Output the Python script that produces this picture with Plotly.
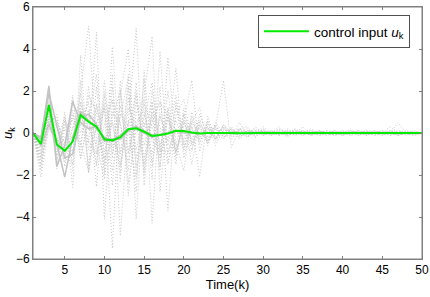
import plotly.graph_objects as go

K = list(range(1, 51))

# control input (green)
U_MEAN = [0, -0.52, 1.33, -0.55, -0.85, -0.41, 0.86, 0.54, 0.3, -0.3,
          -0.35, -0.2, 0.18, 0.22, 0.06, -0.14, -0.1, -0.02, 0.11, 0.1,
          0.02, -0.02, 0.0, 0.01, 0.0, 0.0, -0.01, 0.01, 0.0, 0.0,
          0.0, 0.01, 0.0, 0.0, -0.01, 0.0, 0.0, 0.01, 0.0, 0.01,
          0.02, 0.01, 0.0, 0.0, 0.0, -0.01, 0.01, 0.02, 0.01, 0.0]

# solid gray trajectories (early steps)
S1 = [0, -0.3, 2.25, -1.6, -0.6, 1.5, 0.5, 0.2, 0.3, -0.3, -0.3, -0.1, 0.2, 0.2, 0.0, -0.1, -0.1, 0.0, 0.1, 0.1, 0.0, 0.0]
S2 = [0, -0.6, 0.4, -0.5, -2.1, -0.2, 1.0, 0.6, 0.2, -0.2, -0.4, -0.2, 0.2, 0.3, 0.0, -0.2, -0.1, 0.0, 0.1, 0.1, 0.0, 0.0]
S3 = [0, -0.2, 1.9, 0.3, -1.2, -1.0, 0.7, 0.9, 0.4, -0.4, -0.3, -0.3, 0.1, 0.3, 0.1, -0.1, -0.1, 0.0, 0.1, 0.0, 0.0, 0.0]

# dotted gray trajectories
D1 = [0, -0.8, 1.2, -1.0, 0.6, -1.5, 2.0, 5.1, -0.5, 1.2,
      -5.5, 2.1, -1.0, 2.4, -1.8, 1.0, -1.2, 0.8, -0.6, 0.9,
      -0.5, 0.3, -0.4, 0.2, -0.1, 0.3, -0.2, 0.1, -0.1, 0.2,
      -0.1, 0.1, -0.2, 0.1, 0.0, 0.1, -0.1, 0.0, 0.1, -0.1,
      0.0, 0.1, -0.1, 0.0, 0.1, 0.0, -0.1, 0.0, 0.0, 0.0]
D2 = [0, -1.5, 0.8, 0.5, -1.2, 0.9, -0.6, 1.8, 1.0, -1.5,
      2.8, -4.9, 0.5, 5.0, -2.5, 1.5, -0.8, 1.2, -1.0, 0.6,
      -0.8, 0.5, -0.3, 0.4, -0.2, 0.1, 0.2, -0.2, 0.1, 0.0,
      0.1, -0.1, 0.2, 0.0, -0.1, 0.1, 0.0, -0.1, 0.0, 0.1,
      -0.1, 0.0, 0.1, 0.0, -0.1, 0.1, 0.0, 0.0, -0.1, 0.0]
D3 = [0, -0.5, 1.5, -1.7, 0.2, -0.8, 1.5, -0.5, 4.8, -4.1,
      1.5, 0.5, -1.8, 2.0, -1.2, 0.5, 1.5, -1.0, 0.6, -0.4,
      0.3, -0.3, 0.2, 0.0, 0.2, -0.1, 0.1, -0.2, 0.1, 0.0,
      -0.1, 0.2, -0.1, 0.0, 0.1, -0.1, 0.0, 0.1, 0.0, -0.1,
      0.1, 0.0, 0.0, -0.1, 0.0, 0.1, 0.0, -0.1, 0.0, 0.0]
D4 = [0, -1.0, 0.5, 0.8, -0.9, 1.8, -1.2, 0.6, -1.5, 2.5,
      -1.0, 0.8, 2.6, -4.1, 1.8, 4.6, -2.8, 1.0, -1.5, 1.2,
      -0.6, 0.4, -0.5, 0.3, -0.1, 0.2, -0.2, 0.1, 0.0, -0.1,
      0.1, 0.0, -0.1, 0.2, -0.1, 0.0, 0.1, 0.0, -0.1, 0.0,
      0.1, -0.1, 0.0, 0.0, 0.1, -0.1, 0.0, 0.0, 0.1, 0.0]
D5 = [0, -0.3, 1.0, -1.3, 0.5, 0.2, 1.2, -1.6, 2.2, -2.0,
      4.1, -1.5, 0.2, -2.2, 2.6, -4.3, 1.5, 0.8, -0.9, 0.5,
      -0.3, 0.6, -0.4, 0.2, -0.2, 0.1, 0.0, 0.2, -0.1, 0.0,
      0.1, -0.1, 0.0, 0.1, 0.0, -0.1, 0.1, 0.0, -0.1, 0.0,
      0.0, 0.1, 0.0, -0.1, 0.0, 0.0, 0.1, 0.0, -0.1, 0.0]
D6 = [0, -1.2, 0.2, -0.4, 0.8, -1.8, 2.5, -1.9, 0.5, 1.2,
      -2.5, 1.8, 4.0, -2.0, 0.5, -1.0, 2.2, -3.7, 1.5, -0.6,
      0.8, -0.5, 0.4, -0.2, 0.3, -0.1, 0.0, 0.1, -0.2, 0.1,
      0.0, -0.1, 0.1, 0.0, 0.1, -0.1, 0.0, 0.0, 0.1, -0.1,
      0.0, 0.1, -0.1, 0.0, 0.0, 0.1, -0.1, 0.0, 0.0, 0.0]
D7 = [0, -0.9, 0.6, -0.2, -1.0, 0.9, 0.3, 1.5, -2.55, 1.8,
      -1.2, 2.5, -3.0, 1.0, 1.6, -2.2, 3.9, -1.4, 0.2, -0.8,
      0.5, -0.2, 0.3, -0.3, 0.1, 0.1, -0.1, 0.0, 0.2, -0.1,
      0.0, 0.0, 0.1, -0.1, 0.1, 0.0, -0.1, 0.0, 0.1, 0.0,
      -0.1, 0.0, 0.1, 0.0, 0.0, -0.1, 0.0, 0.1, 0.0, 0.0]
D8 = [0, -0.6, 1.8, -1.5, 1.0, -2.6, 3.7, -1.9, 1.3, -0.5,
      0.6, -1.6, 1.2, 0.4, -1.5, 2.0, -0.6, 0.7, -0.9, 0.3,
      0.2, -0.4, 0.1, 0.3, -0.2, 0.0, 0.1, -0.1, 0.0, 0.1,
      -0.1, 0.0, 0.0, 0.1, -0.1, 0.0, 0.0, 0.1, 0.0, -0.1,
      0.0, 0.0, 0.1, -0.1, 0.0, 0.0, 0.0, 0.1, 0.0, 0.0]
D9 = [0, -1.8, 0.9, -0.6, 0.3, 0.6, -0.8, 2.2, -1.0, 0.4,
      1.6, -2.3, 2.8, -1.2, 0.3, 1.4, -1.8, 3.6, -0.5, -1.8,
      1.0, -0.3, 0.5, -0.2, 0.1, 0.2, -0.3, 0.1, 0.0, 0.1,
      0.0, -0.1, 0.1, 0.0, -0.1, 0.1, 0.0, 0.0, -0.1, 0.1,
      0.0, -0.1, 0.0, 0.1, 0.0, 0.0, -0.1, 0.0, 0.0, 0.0]
D10 = [0, -2.1, 0.3, 0.6, -0.5, 1.1, -1.2, 0.9, 0.5, -1.8,
       2.2, -1.0, 0.6, -2.8, 3.0, -1.6, 0.9, -0.4, 3.1, -1.2,
       0.4, -2.1, 0.8, -0.3, 0.4, -0.1, 0.2, 0.0, -0.1, 0.2,
       -0.1, 0.0, 0.1, -0.1, 0.0, 0.1, 0.0, -0.1, 0.0, 0.1,
       0.0, 0.0, -0.1, 0.1, 0.0, -0.1, 0.0, 0.0, 0.1, 0.0]
D11 = [0, -0.4, 0.9, -1.1, 0.7, -0.4, 1.9, -0.8, 0.2, -1.2,
       1.0, 0.4, -1.4, 1.5, -0.6, 0.8, -1.6, 1.2, -0.9, 0.6,
       2.5, -0.9, 0.6, -0.4, 0.3, -0.2, 0.5, -0.1, 0.0, 0.1,
       0.0, 0.3, -0.1, 0.0, 0.1, 0.0, -0.1, 0.0, 0.1, 0.0,
       0.2, -0.1, 0.0, 0.0, 0.1, 0.0, -0.1, 0.0, 0.0, 0.0]
D12 = [0, -1.3, 1.4, -0.8, -0.2, 0.7, 0.0, 1.1, -1.6, 2.0,
       -0.7, 1.3, -0.9, 0.5, 1.1, -1.4, 0.8, -0.6, 1.3, -0.8,
       0.5, 1.2, -0.6, 0.3, 2.5, -0.7, 0.2, 0.3, -0.2, 0.1,
       0.0, 0.1, -0.1, 0.2, 0.0, -0.1, 0.1, 0.0, 0.0, -0.1,
       0.1, 0.0, 0.0, 0.1, -0.1, 0.0, 0.5, 0.0, -0.1, 0.0]
D13 = [0, -1.6, 0.5, -0.3, -1.4, 1.6, -0.5, -1.8, 1.4, -0.9,
       0.5, -1.9, 1.7, -0.8, 0.9, -0.3, -1.1, 2.0, -1.2, 0.9,
       -1.5, 0.6, 0.3, -0.6, 0.2, 0.0, 0.1, -0.2, 0.3, 0.0,
       -0.1, 0.1, 0.0, 0.0, 0.3, -0.1, 0.0, 0.1, 0.0, 0.0,
       -0.1, 0.1, 0.0, 0.0, 0.0, 0.1, -0.1, 0.0, 0.0, 0.0]
D14 = [0, -0.7, 0.4, 0.9, -1.6, 0.3, 1.0, -0.4, -1.0, 1.4,
       -1.8, 0.9, 0.3, 1.8, -2.0, 1.2, 0.3, -1.5, 0.8, 1.6,
       -0.4, 0.2, -0.5, 0.5, 0.0, -0.3, 0.2, 0.0, 0.1, -0.1,
       0.0, 0.2, 0.0, -0.1, 0.0, 0.0, 0.1, 0.0, 0.0, 0.0,
       0.1, 0.0, -0.1, 0.0, 0.0, 0.0, 0.1, 0.0, 0.0, 0.0]
D15 = [0, -1.1, 1.1, 0.2, -0.7, -1.1, 1.4, 0.2, -0.6, -2.2,
       0.8, 2.0, -2.4, 0.2, 1.4, 0.3, -0.9, -0.2, 1.8, -0.5,
       -0.9, 0.9, -0.2, 0.0, -0.3, 0.2, 0.0, 0.0, 0.1, -0.1,
       0.1, 0.0, -0.1, 0.0, 0.1, -0.1, 0.1, 0.0, 0.0, 0.0,
       0.0, 0.0, 0.1, 0.0, -0.1, 0.0, 0.0, 0.0, 0.0, 0.0]
D16 = [0, -0.2, 0.7, -0.6, -0.3, -0.9, 0.4, 0.7, 2.8, -1.3,
       -0.4, -1.0, 2.2, -1.6, 0.7, 2.4, -0.8, -0.9, 0.2, -0.3,
       0.6, -0.1, 0.2, -0.3, 0.4, 0.0, -0.1, 0.1, 0.0, 0.3,
       0.0, -0.1, 0.0, 0.1, 0.0, 0.2, 0.0, 0.0, -0.1, 0.0,
       0.0, 0.0, 0.0, 0.1, 0.0, 0.3, 0.0, -0.1, 0.0, 0.0]

DOTTED = [D1, D2, D3, D4, D5, D6, D7, D8, D9, D10, D11, D12, D13, D14, D15, D16]
SOLID = [S1, S2, S3]

X_TICKS = [5, 10, 15, 20, 25, 30, 35, 40, 45, 50]
Y_TICKS = [-6, -4, -2, 0, 2, 4, 6]

fig = go.Figure()
for d in DOTTED:
    fig.add_trace(go.Scatter(x=K[:len(d)], y=d, mode="lines", showlegend=False,
                             line=dict(color="rgb(200,200,200)", width=1, dash="1px,2px"),
                             hoverinfo="skip"))
for s in SOLID:
    fig.add_trace(go.Scatter(x=K[:len(s)], y=s, mode="lines", showlegend=False,
                             line=dict(color="rgb(195,195,195)", width=1.5),
                             hoverinfo="skip"))
fig.add_trace(go.Scatter(x=K, y=U_MEAN, mode="lines",
                         name="control input <i>u</i><sub>k</sub>",
                         line=dict(color="rgb(0,235,0)", width=2)))

axis_common = dict(showline=True, linecolor="rgb(128,128,128)", linewidth=1,
                   mirror="ticks", ticks="inside", ticklen=3,
                   tickcolor="rgb(128,128,128)", showgrid=False, zeroline=False,
                   tickfont=dict(family="Liberation Sans, Arial", size=12, color="black"))

fig.update_layout(
    width=430, height=297,
    margin=dict(l=33, r=8, t=7, b=38, autoexpand=False),
    paper_bgcolor="white", plot_bgcolor="white",
    font=dict(family="Liberation Sans, Arial", size=12, color="black"),
    xaxis=dict(range=[1, 50], tickvals=X_TICKS, automargin=False,
               title=dict(text="Time(k)", standoff=2, font=dict(size=13)),
               **axis_common),
    yaxis=dict(range=[-6, 6], tickvals=Y_TICKS, automargin=False,
               title=dict(text="<i>u</i><sub>k</sub>", standoff=4, font=dict(size=13)),
               **axis_common),
    legend=dict(x=0.969, y=0.968, xanchor="right", yanchor="top",
                bgcolor="white", bordercolor="rgb(80,80,80)", borderwidth=1,
                font=dict(size=13.5), tracegroupgap=0, itemwidth=45),
    shapes=[dict(type="rect", xref="paper", yref="paper", x0=0, x1=1, y0=0, y1=1,
                 line=dict(color="rgb(128,128,128)", width=1), layer="above")],
)

fig.write_html("out.html", post_script="document.body.style.margin='0';",
               config={"displayModeBar": False})
